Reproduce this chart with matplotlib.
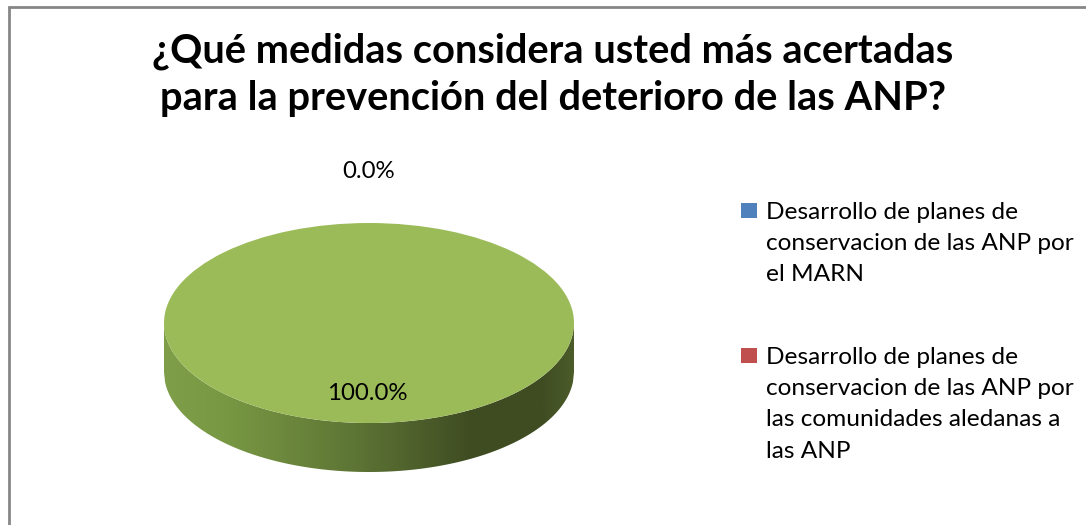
import matplotlib
matplotlib.use("Agg")
import matplotlib.pyplot as plt
import numpy as np
from matplotlib.patches import Rectangle, Polygon
from matplotlib.colors import LinearSegmentedColormap

# ---- data ----
title = "¿Qué medidas considera usted más acertadas\npara la prevención del deterioro de las ANP?"
categories = [
    "Desarrollo de planes de\nconservacion de las ANP por\nel MARN",
    "Desarrollo de planes de\nconservacion de las ANP por\nlas comunidades aledanas a\nlas ANP",
    "Otras",
]
values = [0, 0, 100]
colors = ["#4F81BD", "#C0504D", "#9BBB59"]

FONT = "Lato"
W, H = 1086, 525
fig = plt.figure(figsize=(W / 100, H / 100), dpi=100)
fig.patch.set_facecolor("white")

def fx(px):
    return px / W

def fy(py):
    return 1 - py / H

# outer chart border (partly cropped)
fig.patches.append(Rectangle((fx(8.5), fy(540)), fx(1080), fy(6.5) - fy(540),
                             transform=fig.transFigure, fill=False,
                             edgecolor="#868686", linewidth=2))

# pie axes: top ellipse spans x 164..574, y 223..423; side depth 49 px
depth = 0.49
left, right, top, bottom = 164, 574, 223, 472
ax = fig.add_axes([fx(left), fy(bottom), fx(right - left), fy(top) - fy(bottom)])
ax.set_axis_off()

# side of the 3D pie with gradient
xs = np.linspace(-1, 1, 400)
ytop = -np.sqrt(np.clip(1 - xs ** 2, 0, None))
poly = np.concatenate([np.column_stack([xs, ytop]),
                       np.column_stack([xs[::-1], ytop[::-1] - depth])])
side = Polygon(poly, closed=True, facecolor="none", edgecolor="none")
ax.add_patch(side)
cmap = LinearSegmentedColormap.from_list(
    "side", [(0.0, "#7E9E4A"), (0.15, "#789843"), (0.45, "#5F7736"),
             (0.75, "#3F4C22"), (0.92, "#3F4C22"), (1.0, "#4B5B29")])
grad = np.linspace(0, 1, 256).reshape(1, -1)
im = ax.imshow(grad, cmap=cmap, extent=[-1, 1, -1 - depth, 0], aspect="auto",
               interpolation="bilinear", zorder=1)
im.set_clip_path(side)

# top surface drawn by pie
total = sum(values)
wedges, _ = ax.pie(values, colors=colors, startangle=90, counterclock=False,
                   radius=1, wedgeprops=dict(edgecolor="none", zorder=2))
for w in wedges:
    w.set_zorder(2)
ax.set_aspect("auto")
ax.set_xlim(-1, 1)
ax.set_ylim(-1 - depth, 1)

# data labels
pct = [f"{v / total * 100:.1f}%" for v in values]
ax.text(0.0, 1.51, pct[0], ha="center", va="center", fontsize=17.3,
        family=FONT, color="black", clip_on=False)
ax.text(-0.01, -0.71, pct[2], ha="center", va="center", fontsize=17.3,
        family=FONT, color="black", zorder=5)

# title
fig.text(fx(553), fy(32), title, ha="center", va="top", fontsize=28.7,
         fontweight="bold", family=FONT, linespacing=1.36)

# legend (manual, two visible entries)
leg_y = [203, 348]
for i in range(2):
    fig.patches.append(Rectangle((fx(741), fy(leg_y[i] + 15)), fx(16), fy(leg_y[i]) - fy(leg_y[i] + 15),
                                 transform=fig.transFigure, facecolor=colors[i],
                                 edgecolor="none"))
    fig.text(fx(766), fy(leg_y[i] - 1), categories[i], ha="left", va="top",
             fontsize=17.6, family=FONT, linespacing=1.6)

fig.savefig("out.png", dpi=100)
